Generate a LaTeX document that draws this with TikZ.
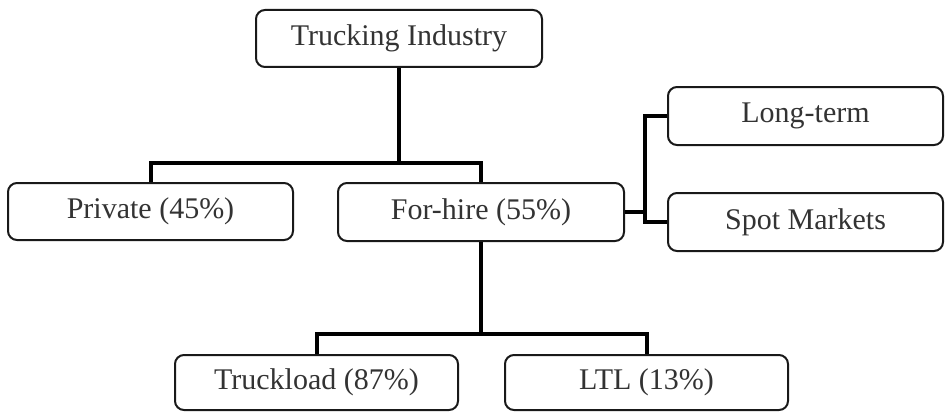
\documentclass[tikz,border=0pt]{standalone}
\usepackage{fontspec}
\setmainfont{Liberation Serif}
\begin{document}
\begin{tikzpicture}[x=1pt,y=1pt,
  box/.style={draw=black!90, line width=2pt, rounded corners=9pt, fill=white,
    text=black!80, font=\fontsize{30}{33}\selectfont, inner sep=0pt},
  conn/.style={line width=4pt, black}]
\useasboundingbox (0,0) rectangle (945,-412);
\node[box, minimum width=286pt, minimum height=57pt] (T) at (399,-38.5) {Trucking Industry};
\node[box, minimum width=285pt, minimum height=57pt] (P) at (150.5,-211.5) {Private (45\%)};
\node[box, minimum width=286pt, minimum height=58pt] (F) at (481,-212) {For-hire (55\%)};
\node[box, minimum width=275pt, minimum height=58pt] (LT) at (805.5,-116) {Long-term};
\node[box, minimum width=275pt, minimum height=58pt] (SM) at (805.5,-222) {Spot Markets};
\node[box, minimum width=283pt, minimum height=55pt] (TL) at (316.5,-382.5) {Truckload (87\%)};
\node[box, minimum width=283pt, minimum height=55pt] (L) at (646.5,-382.5) {LTL (13\%)};
\coordinate (j1) at (399,-163);
\coordinate (j2) at (481,-334);
\coordinate (j3) at (645,-212);
\draw[conn] (T.south) -- (j1);
\draw[conn] (P.north) |- (j1) -| (F.north);
\draw[conn] (F.south) -- (j2);
\draw[conn] (TL.north) |- (j2) -| (L.north);
\draw[conn] (F.east) -- (j3);
\draw[conn] (LT.west) -| (j3);
\draw[conn] (SM.west) -| (j3);
\end{tikzpicture}
\end{document}
